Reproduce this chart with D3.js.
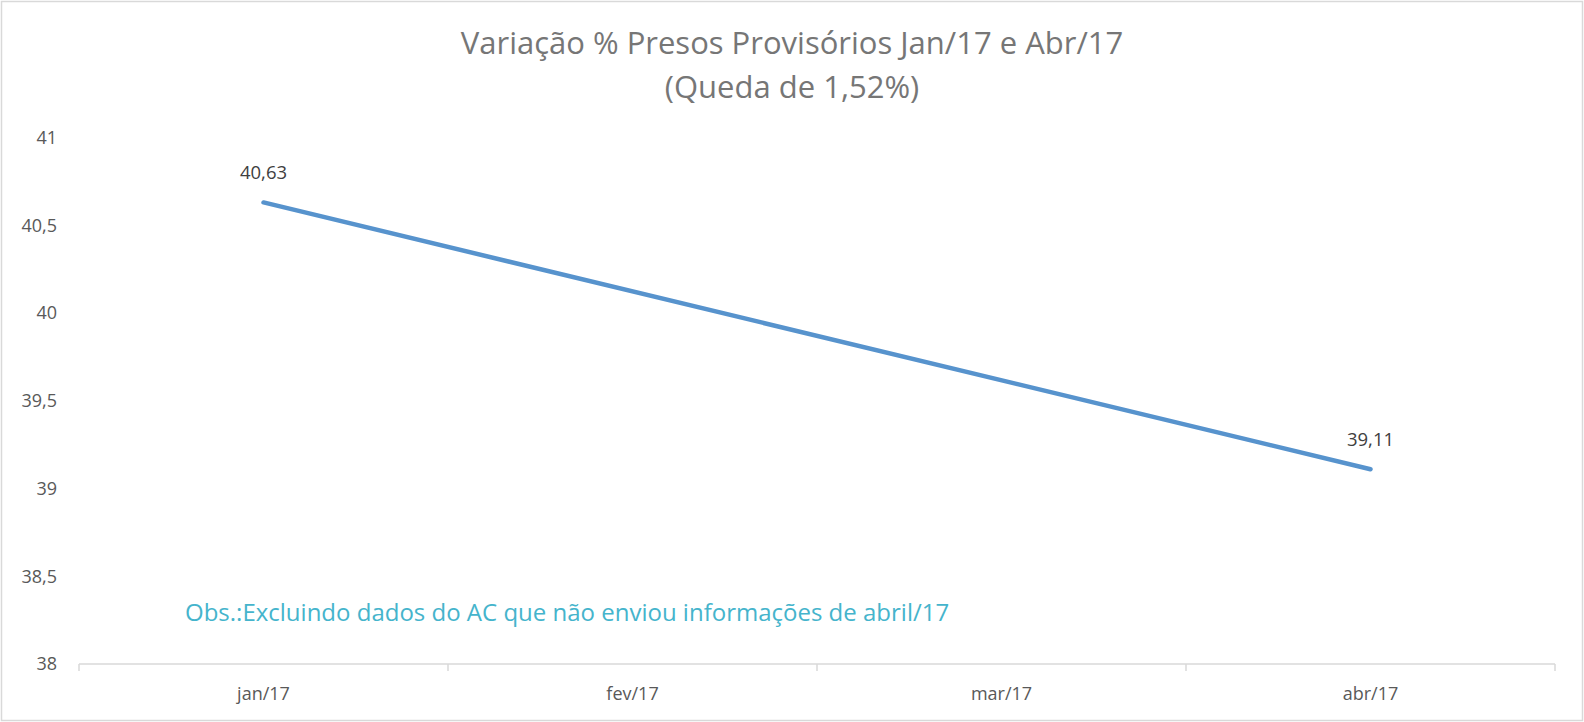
<!DOCTYPE html>
<html>
<head>
<meta charset="utf-8">
<script src="https://cdn.jsdelivr.net/npm/d3@7/dist/d3.min.js"></script>
<style>
  html, body { margin: 0; padding: 0; background: #fff; }
  svg { display: block; font-family: "Open Sans", sans-serif; }
</style>
</head>
<body>
<svg id="chart" width="1584" height="722"></svg>
<script>
const titleLines = ["Variação % Presos Provisórios Jan/17 e Abr/17", "(Queda de 1,52%)"];
const note = "Obs.:Excluindo dados do AC que não enviou informações de abril/17";
const categories = ["jan/17", "fev/17", "mar/17", "abr/17"];
const pointCategories = ["jan/17", "abr/17"];
const values = [40.63, 39.11];
const valueLabels = ["40,63", "39,11"];
const yTicks = [38, 38.5, 39, 39.5, 40, 40.5, 41];
const yTickLabels = ["38", "38,5", "39", "39,5", "40", "40,5", "41"];

const W = 1584, H = 722;
const FONT = "'Open Sans', sans-serif";
const svg = d3.select("#chart");

// outer border
svg.append("rect").attr("x", 1.5).attr("y", 1.5).attr("width", W - 3).attr("height", H - 3)
  .attr("fill", "#fff").attr("stroke", "#d9d9d9").attr("stroke-width", 1.5);

const plot = { left: 79, right: 1555, top: 137.5, bottom: 664 };

const x = d3.scaleBand().domain(categories).range([plot.left, plot.right]).paddingInner(0).paddingOuter(0);
const y = d3.scaleLinear().domain([38, 41]).range([plot.bottom, plot.top]);

// title
const title = svg.append("text").attr("text-anchor", "middle").attr("fill", "#767676")
  .attr("font-size", 31);
title.selectAll("tspan").data(titleLines).join("tspan")
  .attr("x", W / 2).attr("y", (d, i) => 54 + i * 44).text(d => d);

// y axis labels (no line)
const yAxis = d3.axisLeft(y).tickValues(yTicks).tickFormat((d, i) => yTickLabels[i]).tickSize(0).tickPadding(0);
const gy = svg.append("g").attr("transform", `translate(57,0)`).call(yAxis);
gy.select(".domain").remove();
gy.selectAll("text").attr("fill", "#595959").attr("font-size", 18).attr("font-family", FONT);

// x axis
const xAxis = d3.axisBottom(x).tickSize(0).tickPadding(0);
const gx = svg.append("g").attr("transform", `translate(0,${plot.bottom})`).call(xAxis);
gx.select(".domain").remove();
gx.selectAll("text").attr("fill", "#595959").attr("font-size", 18).attr("font-family", FONT)
  .attr("dy", 0).attr("y", 36);
svg.append("line").attr("x1", plot.left).attr("x2", plot.right).attr("y1", plot.bottom).attr("y2", plot.bottom)
  .attr("stroke", "#d9d9d9").attr("stroke-width", 1.5);
const boundaries = categories.map(c => x(c)).concat([x(categories[categories.length - 1]) + x.bandwidth()]);
svg.selectAll(".xtick").data(boundaries).join("line").attr("class", "xtick")
  .attr("x1", d => d).attr("x2", d => d).attr("y1", plot.bottom).attr("y2", plot.bottom + 7)
  .attr("stroke", "#d9d9d9").attr("stroke-width", 1.5);

// line
const pts = pointCategories.map((c, i) => ({ c, v: values[i], l: valueLabels[i] }));
const line = d3.line().x(d => x(d.c) + x.bandwidth() / 2).y(d => y(d.v));
svg.append("path").datum(pts).attr("d", line).attr("fill", "none")
  .attr("stroke", "#5793cd").attr("stroke-width", 4.5).attr("stroke-linecap", "round");

// data labels
svg.selectAll(".dl").data(pts).join("text").attr("class", "dl")
  .attr("x", d => x(d.c) + x.bandwidth() / 2).attr("y", d => y(d.v) - 23)
  .attr("text-anchor", "middle").attr("fill", "#404040").attr("font-size", 18.5).text(d => d.l);

// note
svg.append("text").attr("x", 185).attr("y", 621).attr("fill", "#45b4cc").attr("font-size", 24).text(note);
</script>
</body>
</html>
